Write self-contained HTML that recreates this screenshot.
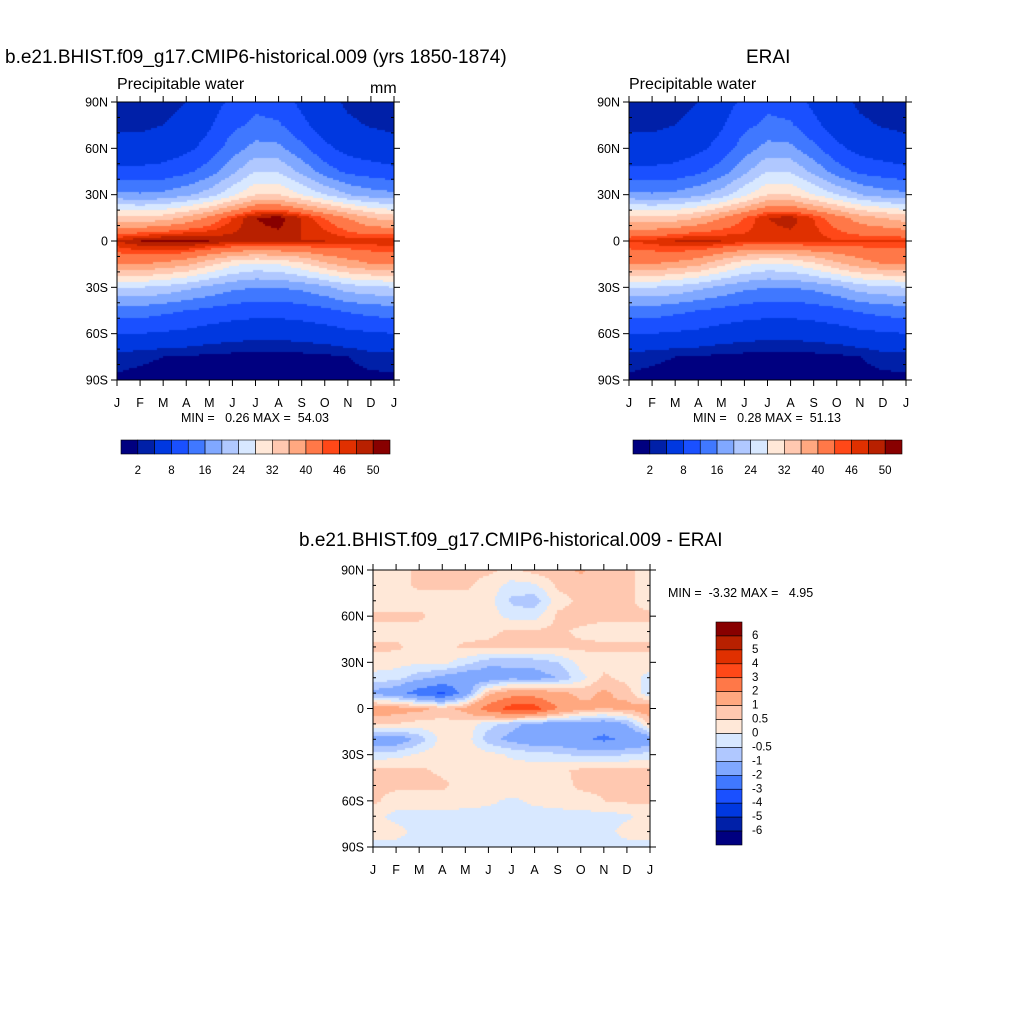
<!DOCTYPE html>
<html><head><meta charset="utf-8">
<style>
html,body{margin:0;padding:0;background:#fff;width:1024px;height:1024px;overflow:hidden}
#root{position:relative;width:1024px;height:1024px;font-family:"Liberation Sans",sans-serif;color:#000}
.t{position:absolute;white-space:nowrap}
canvas{position:absolute}
svg{position:absolute;left:0;top:0}
</style></head>
<body>
<div id="root">
<div class="t" style="left:5px;top:47px;font-size:19px">b.e21.BHIST.f09_g17.CMIP6-historical.009 (yrs 1850-1874)</div>
<div class="t" style="left:746px;top:47px;font-size:19px">ERAI</div>
<div class="t" style="left:117px;top:76px;font-size:16px">Precipitable water</div>
<div class="t" style="left:370px;top:80px;font-size:16px">mm</div>
<div class="t" style="left:629px;top:76px;font-size:16px">Precipitable water</div>
<div class="t" style="left:181px;top:411px;font-size:12.5px">MIN =&nbsp;&nbsp; 0.26 MAX =&nbsp; 54.03</div>
<div class="t" style="left:693px;top:411px;font-size:12.5px">MIN =&nbsp;&nbsp; 0.28 MAX =&nbsp; 51.13</div>
<div class="t" style="left:299px;top:530px;font-size:19px">b.e21.BHIST.f09_g17.CMIP6-historical.009 - ERAI</div>
<div class="t" style="left:668px;top:586px;font-size:12.5px">MIN =&nbsp; -3.32 MAX =&nbsp;&nbsp; 4.95</div>
<canvas id="c1" width="277" height="278" style="left:117px;top:102px"></canvas>
<canvas id="c2" width="277" height="278" style="left:629px;top:102px"></canvas>
<canvas id="c3" width="277" height="277" style="left:373px;top:570px"></canvas>
<svg id="ov" width="1024" height="1024"></svg>
</div>
<script>
const COLORS=["#000080","#0020a8","#0038e0","#1a50ff","#4078ff","#80a8ff","#b0c8ff","#d8e8ff","#ffe8d8","#ffc8b0","#ffa880","#ff7848","#ff4818","#e03000","#b82000","#880000"];
const pwLevels=[2,4,8,12,16,20,24,28,32,36,40,44,46,48,50];
const pwLabels=["2","8","16","24","32","40","46","50"];
const diffLevels=[-6,-5,-4,-3,-2,-1,-0.5,0,0.5,1,2,3,4,5,6];
const diffLabels=["6","5","4","3","2","1","0.5","0","-0.5","-1","-2","-3","-4","-5","-6"];
const months=["J","F","M","A","M","J","J","A","S","O","N","D","J"];
const latTicks=["90N","60N","30N","0","30S","60S","90S"];
const pwLats=[90,75,60,45,30,15,0,-15,-30,-45,-60,-75,-90];
const modelPW=[
[3,3,3,4,6,9,11,10,7,5,3.5,3,3],
[3.5,3.5,4,5,7.5,11,13,12.5,9,6,4.5,3.8,3.5],
[5,5,5.5,7,9.5,14,17.5,17,13,9,6.5,5.5,5],
[9,9,9.5,11,14,19,24,23.5,19,14,11,10,9],
[17,16.5,17,19,22,27,32,32,28,24,20,18,17],
[34,33,34,37,41,46,50,51,48,44,40,36,34],
[48,50,51,51,50,49,49,49,48,48,47,47,48],
[40,40,39,37,33,29,27,28,31,35,38,40,40],
[24,24,23,21,19,17,16,16,17,19,22,23,24],
[14,14,13,12,11,10,9.5,9.5,10,11,12.5,13.5,14],
[8,8,7.5,7,6,5.5,5,5,5.5,6,7,7.5,8],
[3,2.5,2,1.8,1.5,1.3,1.2,1.2,1.3,1.5,2,3,3],
[1.5,1.2,1,1,0.8,0.7,0.6,0.6,0.7,0.8,1,1.3,1.5]];
const eraiPW=[
[3,2.5,3,4,6,9,11,10,7,5,3.5,3,3],
[3.5,3.5,4,5,7.5,11,13,12.5,9,6,4.5,3.8,3.5],
[5,5,5.5,7,9.5,14,17.5,17,13,9,6.5,5.5,5],
[9,9,9.5,11,14,19,24,23.5,19,14,11,10,9],
[17,16.5,17,19,22,27,32,32,28,24,20,18,17],
[34,33,34,36,40,44,48,49,46,42,38,36,34],
[46,47,48,49,48,47,47,47,47,46,46,46,46],
[40,40,39,37,33,29,27,28,31,35,38,40,40],
[24,24,23,21,19,17,16,16,17,19,22,23,24],
[14,14,13,12,11,10,9.5,9.5,10,11,12.5,13.5,14],
[8,8,7.5,7,6,5.5,5,5,5.5,6,7,7.5,8],
[3,2.5,2,1.8,1.5,1.3,1.2,1.2,1.3,1.5,2,3,3],
[1.5,1.2,1,1,0.8,0.7,0.6,0.6,0.7,0.8,1,1.3,1.5]];
const diffLats=[90,80,70,60,50,40,30,20,10,0,-10,-20,-30,-40,-50,-60,-70,-80,-90];
const diffVals=[
[0.3,0.3,0.6,0.6,0.6,0.6,0.4,0.7,0.8,1.1,0.7,0.6,0.3],
[0.3,0.3,0.6,0.6,0.6,0.3,-0.2,-0.1,0.6,0.7,0.6,0.6,0.3],
[0.3,0.3,0.3,0.3,0.3,0.2,-0.6,-0.8,0.3,0.6,0.6,0.6,0.3],
[0.6,0.6,0.6,0.3,0.3,0.3,-0.2,-0.2,0.6,0.7,0.6,0.6,0.6],
[0.3,0.3,0.3,0.3,0.3,0.4,0.6,0.6,0.6,0.4,0.3,0.3,0.3],
[0.6,0.6,0.3,0.3,0.6,0.6,0.6,0.6,0.6,0.6,0.6,0.6,0.6],
[0.3,0.2,0.1,0.2,-0.3,-0.8,-0.9,-0.8,-0.5,0.2,0.3,0.3,0.3],
[-0.2,-0.3,-0.8,-1.2,-1.5,-1.5,-1.2,-1.3,-1.0,-0.2,0.6,0.3,-0.2],
[-1.2,-1.5,-2.5,-3.2,-1.5,0.8,1.5,1.5,1.2,0.8,1.1,0.8,-0.5],
[1.5,1.3,1.2,0.8,1.2,2.5,3.5,3.5,2.0,1.2,1.0,1.2,1.5],
[0.6,0.5,0.3,0.3,0.3,-0.3,-0.8,-1.2,-1.3,-1.3,-1.5,-1.0,0.6],
[-1.5,-1.5,-0.8,0.2,0.3,-0.8,-1.2,-1.5,-1.5,-1.8,-2.2,-1.8,-1.5],
[-0.3,-0.2,0.1,0.3,0.3,0.2,-0.1,-0.3,-0.4,-0.6,-0.6,-0.5,-0.3],
[0.6,0.6,0.6,0.4,0.3,0.3,0.3,0.3,0.4,0.6,0.7,0.7,0.6],
[0.6,0.6,0.6,0.6,0.3,0.3,0.3,0.3,0.3,0.6,0.6,0.6,0.6],
[0.6,0.3,0.3,0.3,0.2,0.1,-0.1,0.1,0.2,0.3,0.5,0.6,0.6],
[0.2,-0.2,-0.2,-0.2,-0.2,-0.2,-0.2,-0.2,-0.2,-0.2,-0.2,-0.1,0.2],
[0.3,0.2,-0.2,-0.2,-0.2,-0.2,-0.2,-0.2,-0.2,-0.2,-0.2,0.2,0.3],
[-0.2,-0.2,-0.2,-0.2,-0.2,-0.2,-0.2,-0.2,-0.2,-0.2,-0.2,-0.2,-0.2]];

function colorIdx(v,levels){let i=0;while(i<levels.length&&v>=levels[i])i++;return i;}
function sample(grid,lats,lat,m){
  let r=0;while(r<lats.length-2&&lat<lats[r+1])r++;
  const fy=(lats[r]-lat)/(lats[r]-lats[r+1]);
  let c=Math.min(Math.floor(m),grid[0].length-2);const fx=m-c;
  const a=grid[r][c],b=grid[r][c+1],d=grid[r+1][c],e=grid[r+1][c+1];
  return a*(1-fx)*(1-fy)+b*fx*(1-fy)+d*(1-fx)*fy+e*fx*fy;
}
function drawField(id,grid,lats,levels){
  const cv=document.getElementById(id),ctx=cv.getContext('2d');
  const W=cv.width,H=cv.height,s=2;
  const xS=px=>px/W*12, yS=py=>90-py/H*180;
  for(let y=0;y<H;y+=s)for(let x=0;x<W;x+=s){
    const v=sample(grid,lats,yS(y+s/2),xS(x+s/2));
    ctx.fillStyle=COLORS[colorIdx(v,levels)];ctx.fillRect(x,y,s,s);
  }
}
drawField('c1',modelPW,pwLats,pwLevels);
drawField('c2',eraiPW,pwLats,pwLevels);
drawField('c3',diffVals,diffLats,diffLevels);

const NS='http://www.w3.org/2000/svg',ov=document.getElementById('ov');
function el(tag,attrs,txt){const e=document.createElementNS(NS,tag);for(const k in attrs)e.setAttribute(k,attrs[k]);if(txt!==undefined)e.textContent=txt;ov.appendChild(e);return e;}
function axes(x0,y0,w,h,name){
  const f=el('rect',{x:x0,y:y0,width:w,height:h,fill:'none',stroke:'#000','stroke-width':1});
  
  
  for(let i=0;i<months.length;i++){
    const x=x0+w*i/12;
    el('line',{x1:x,y1:y0,x2:x,y2:y0-6,stroke:'#000'});
    el('line',{x1:x,y1:y0+h,x2:x,y2:y0+h+6,stroke:'#000'});
    const t=el('text',{x:x,y:y0+h+27,'font-size':12.5,'text-anchor':'middle','font-family':'Liberation Sans'},months[i]);
    
    
  }
  for(let j=0;j<=18;j++){
    const y=y0+h*j/18,maj=j%3===0;
    el('line',{x1:x0,y1:y,x2:maj?x0-6:x0+3,y2:y,stroke:'#000'});
    el('line',{x1:x0+w,y1:y,x2:maj?x0+w+6:x0+w-3,y2:y,stroke:'#000'});
    if(maj){
      const t=el('text',{x:x0-9,y:y+4.5,'font-size':12.5,'text-anchor':'end','font-family':'Liberation Sans'},latTicks[j/3]);
      
      
    }
  }
}
axes(117,102,277,278,'model');
axes(629,102,277,278,'erai');
axes(373,570,277,277,'diff');
function hbar(x0,y0,w,h,name){
  const bw=w/16;
  for(let i=0;i<16;i++){
    const r=el('rect',{x:x0+i*bw,y:y0,width:bw,height:h,fill:COLORS[i],stroke:'#000','stroke-width':0.6});
    
    
  }
  for(let k=0;k<pwLabels.length;k++){
    const t=el('text',{x:x0+bw*(1+2*k),y:y0+h+20,'font-size':11.5,'text-anchor':'middle','font-family':'Liberation Sans'},pwLabels[k]);
    
    
  }
}
hbar(121,440,269,14,'model');
hbar(633,440,269,14,'erai');
(function(){
  const x0=716,y0=622,w=26,h=223,bh=h/16;
  for(let i=0;i<16;i++){
    const r=el('rect',{x:x0,y:y0+i*bh,width:w,height:bh,fill:COLORS[15-i],stroke:'#000','stroke-width':0.6});
    
    
  }
  for(let k=0;k<diffLabels.length;k++){
    const t=el('text',{x:x0+w+10,y:y0+bh*(k+1)+3,'font-size':11.5,'font-family':'Liberation Sans'},diffLabels[k]);
    
    
  }
})();
</script>
</body></html>
